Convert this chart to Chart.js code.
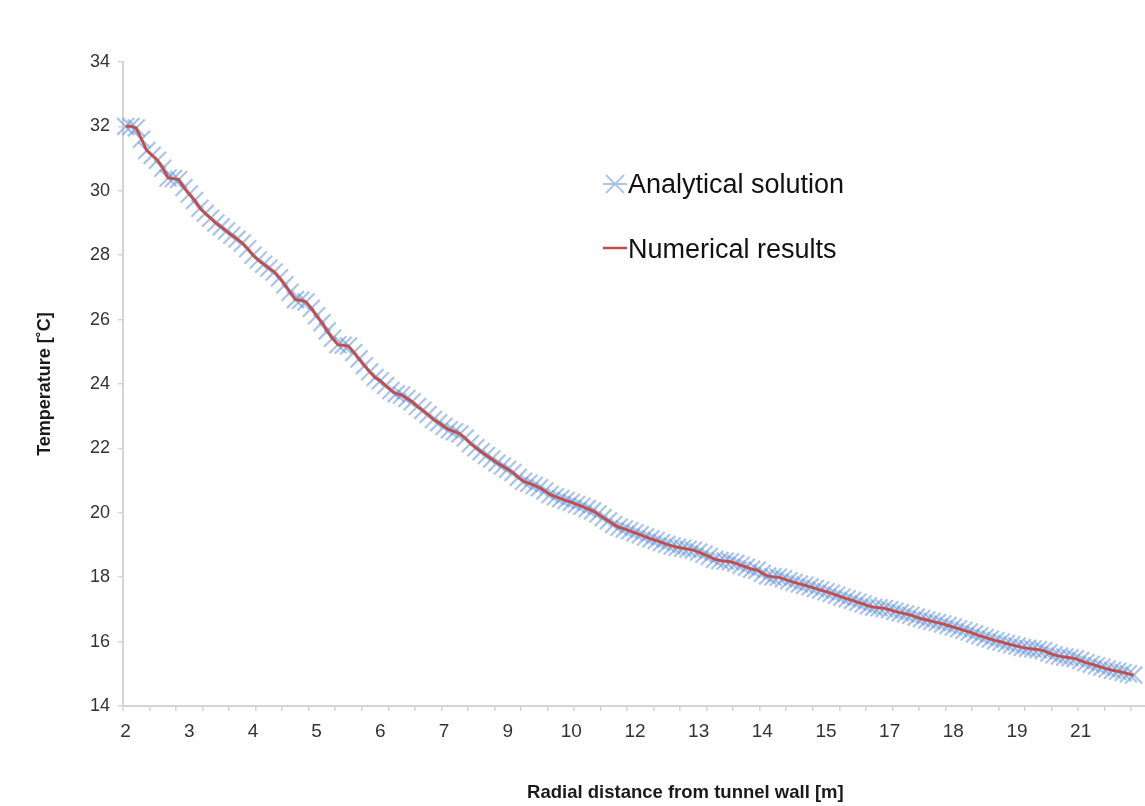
<!DOCTYPE html>
<html>
<head>
<meta charset="utf-8">
<title>Temperature vs radial distance</title>
<script src="https://cdn.jsdelivr.net/npm/chart.js@4.4.1/dist/chart.umd.min.js"></script>
<style>
  html, body { margin: 0; padding: 0; background: #fff; overflow: hidden; }
  #wrap { width: 1262px; height: 806px; }
</style>
</head>
<body>
<div id="wrap"><canvas id="tempChart" width="1262" height="806"></canvas></div>
<script>
// radial distance [m], only every 12th category carries a label
const tickLabels = ['2', '3', '4', '5', '6', '7', '9', '10', '12', '13', '14', '15', '17', '18', '19', '21'];
const labelEvery = 12;
const tickMarkEvery = 5;
const categoryCount = 212; // the original plot runs on past the right edge of the picture

// temperature [°C]
const analytical = [
  32.0, 32.0, 31.95, 31.6, 31.25, 31.1, 30.95, 30.7, 30.4, 30.38,
  30.35, 30.1, 29.9, 29.7, 29.46, 29.3, 29.15, 29.0, 28.88, 28.75,
  28.62, 28.5, 28.38, 28.2, 28.0, 27.85, 27.72, 27.6, 27.48, 27.3,
  27.08, 26.85, 26.62, 26.6, 26.55, 26.35, 26.12, 25.9, 25.65, 25.42,
  25.22, 25.2, 25.18, 24.98, 24.78, 24.57, 24.38, 24.2, 24.1, 23.95,
  23.8, 23.7, 23.66, 23.55, 23.45, 23.3, 23.18, 23.05, 22.9, 22.8,
  22.68, 22.58, 22.52, 22.45, 22.32, 22.15, 22.02, 21.9, 21.78, 21.67,
  21.55, 21.45, 21.35, 21.25, 21.1, 20.98, 20.92, 20.85, 20.78, 20.68,
  20.57, 20.5, 20.44, 20.38, 20.33, 20.26, 20.2, 20.13, 20.06, 19.96,
  19.85, 19.75, 19.64, 19.55, 19.5, 19.44, 19.38, 19.32, 19.25, 19.19,
  19.14, 19.08, 19.02, 18.97, 18.93, 18.9, 18.87, 18.84, 18.78, 18.71,
  18.64, 18.56, 18.52, 18.5, 18.48, 18.43, 18.37, 18.31, 18.25, 18.22,
  18.12, 18.04, 18.01, 18.0, 17.95, 17.89, 17.84, 17.79, 17.75, 17.7,
  17.65, 17.6, 17.55, 17.5, 17.44, 17.38, 17.33, 17.28, 17.22, 17.17,
  17.11, 17.07, 17.05, 17.03, 16.99, 16.94, 16.9, 16.86, 16.82, 16.76,
  16.71, 16.67, 16.63, 16.59, 16.55, 16.5, 16.45, 16.4, 16.35, 16.3,
  16.24, 16.18, 16.13, 16.08, 16.03, 15.99, 15.94, 15.9, 15.86, 15.82,
  15.79, 15.77, 15.75, 15.72, 15.65, 15.59, 15.55, 15.52, 15.5, 15.47,
  15.41, 15.35, 15.3, 15.25, 15.2, 15.15, 15.11, 15.08, 15.04, 15.0,
  14.96
];

const numerical = [
  32.0, 32.0, 31.95, 31.6, 31.25, 31.1, 30.95, 30.7, 30.4, 30.38,
  30.35, 30.1, 29.9, 29.7, 29.46, 29.3, 29.15, 29.0, 28.88, 28.75,
  28.62, 28.5, 28.38, 28.2, 28.0, 27.85, 27.72, 27.6, 27.48, 27.3,
  27.08, 26.85, 26.62, 26.6, 26.55, 26.35, 26.12, 25.9, 25.65, 25.42,
  25.22, 25.2, 25.18, 24.98, 24.78, 24.57, 24.38, 24.2, 24.1, 23.95,
  23.8, 23.7, 23.66, 23.55, 23.45, 23.3, 23.18, 23.05, 22.9, 22.8,
  22.68, 22.58, 22.52, 22.45, 22.32, 22.15, 22.02, 21.9, 21.78, 21.67,
  21.55, 21.45, 21.35, 21.25, 21.1, 20.98, 20.92, 20.85, 20.78, 20.68,
  20.57, 20.5, 20.44, 20.38, 20.33, 20.26, 20.2, 20.13, 20.06, 19.96,
  19.85, 19.75, 19.64, 19.55, 19.5, 19.44, 19.38, 19.32, 19.25, 19.19,
  19.14, 19.08, 19.02, 18.97, 18.93, 18.9, 18.87, 18.84, 18.78, 18.71,
  18.64, 18.56, 18.52, 18.5, 18.48, 18.43, 18.37, 18.31, 18.25, 18.22,
  18.12, 18.04, 18.01, 18.0, 17.95, 17.89, 17.84, 17.79, 17.75, 17.7,
  17.65, 17.6, 17.55, 17.5, 17.44, 17.38, 17.33, 17.28, 17.22, 17.17,
  17.11, 17.07, 17.05, 17.03, 16.99, 16.94, 16.9, 16.86, 16.82, 16.76,
  16.71, 16.67, 16.63, 16.59, 16.55, 16.5, 16.45, 16.4, 16.35, 16.3,
  16.24, 16.18, 16.13, 16.08, 16.03, 15.99, 15.94, 15.9, 15.86, 15.82,
  15.79, 15.77, 15.75, 15.72, 15.65, 15.59, 15.55, 15.52, 15.5, 15.47,
  15.41, 15.35, 15.3, 15.25, 15.2, 15.15, 15.11, 15.08, 15.04, 15.0,
  14.96
];

const FONT = '"Liberation Sans", Arial, sans-serif';
const BLUE = 'rgba(100, 148, 215, 0.55)';
const RED = '#c0504d';
const AXIS_GREY = '#d4d4d4';

const categories = Array.from({ length: categoryCount }, (_, i) =>
  i % labelEvery === 0 ? (tickLabels[i / labelEvery] || '') : '');

// legend sits inside the plot, like the excel original
const insideLegend = {
  id: 'insideLegend',
  afterDraw(chart) {
    const c = chart.ctx;
    c.save();
    // analytical: x marker
    c.strokeStyle = BLUE;
    c.lineWidth = 1.8;
    c.beginPath();
    c.moveTo(606, 175); c.lineTo(624, 193);
    c.moveTo(606, 193); c.lineTo(624, 175);
    c.moveTo(603, 184); c.lineTo(627, 184);
    c.stroke();
    // numerical: red line
    c.strokeStyle = RED;
    c.lineWidth = 2.5;
    c.beginPath();
    c.moveTo(603, 248); c.lineTo(627, 248);
    c.stroke();

    c.fillStyle = '#111';
    c.font = '27px ' + FONT;
    c.textBaseline = 'alphabetic';
    c.fillText('Analytical solution', 628, 193);
    c.fillText('Numerical results', 628, 258);
    c.restore();
  }
};

const ctx = document.getElementById('tempChart').getContext('2d');
new Chart(ctx, {
  type: 'line',
  data: {
    labels: categories,
    datasets: [
      {
        label: 'Analytical solution',
        data: analytical,
        showLine: false,
        pointStyle: 'crossRot',
        pointRadius: 12,
        pointHoverRadius: 12,
        pointBorderColor: BLUE,
        pointBackgroundColor: BLUE,
        pointBorderWidth: 2.2,
        order: 2
      },
      {
        label: 'Numerical results',
        data: numerical,
        borderColor: RED,
        borderWidth: 2.9,
        pointRadius: 0,
        tension: 0,
        fill: false,
        order: 1
      }
    ]
  },
  options: {
    responsive: false,
    animation: false,
    events: [],
    layout: { padding: { left: 0, right: 3, top: 62, bottom: 0 } },
    plugins: {
      legend: { display: false },
      tooltip: { enabled: false }
    },
    scales: {
      x: {
        type: 'category',
        offset: true,
        grid: {
          offset: true,
          drawOnChartArea: false,
          drawTicks: true,
          tickLength: 5,
          lineWidth: 1.5,
          color: (c) => (c.index % tickMarkEvery === 0 ? AXIS_GREY : 'rgba(0,0,0,0)')
        },
        border: { display: true, color: AXIS_GREY, width: 2 },
        ticks: {
          autoSkip: false,
          maxRotation: 0,
          minRotation: 0,
          padding: 9,
          color: '#333',
          font: { family: FONT, size: 19 }
        },
        title: {
          display: true,
          text: 'Radial distance from tunnel wall [m]',
          color: '#1a1a1a',
          font: { family: FONT, size: 18.5, weight: 'bold' },
          padding: { top: 0, bottom: 2 }
        },
        afterFit: (scale) => { scale.height = 100; }
      },
      y: {
        min: 14,
        max: 34,
        grid: {
          drawOnChartArea: false,
          drawTicks: true,
          tickLength: 5,
          lineWidth: 1.5,
          color: AXIS_GREY
        },
        border: { display: true, color: AXIS_GREY, width: 2 },
        ticks: {
          stepSize: 2,
          padding: 8,
          color: '#333',
          font: { family: FONT, size: 18 }
        },
        title: {
          display: true,
          text: 'Temperature [˚C]',
          color: '#1a1a1a',
          font: { family: FONT, size: 18, weight: 'bold' },
          padding: { top: 34, bottom: 0 }
        },
        afterFit: (scale) => { scale.width = 123; }
      }
    }
  },
  plugins: [insideLegend]
});
</script>
</body>
</html>
